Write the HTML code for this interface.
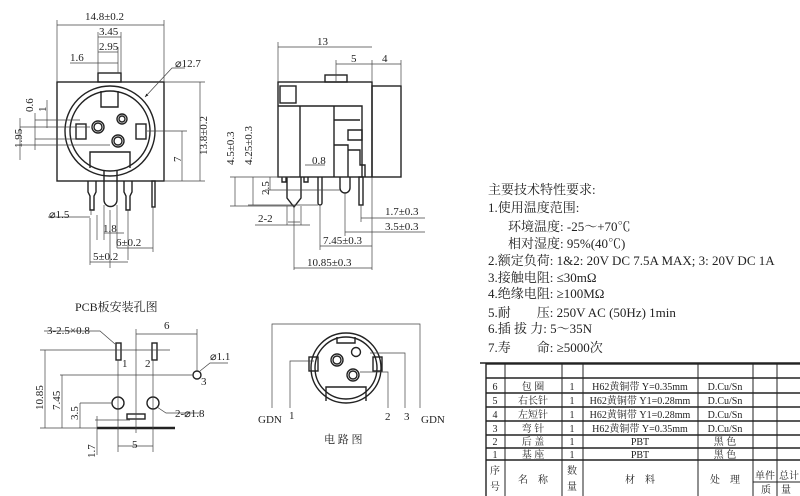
<!DOCTYPE html>
<html><head><meta charset="utf-8"><style>
html,body{margin:0;padding:0;background:#fff;width:800px;height:496px;overflow:hidden}
svg{display:block}
text{font-family:"Liberation Serif","Noto Serif CJK SC","Noto Sans CJK SC",serif;fill:#222}
.s{font-size:11px}
.t{font-size:13px}
</style></head><body>
<svg width="800" height="496" viewBox="0 0 800 496" xmlns="http://www.w3.org/2000/svg">
<defs><marker id="a" markerWidth="6" markerHeight="6" refX="5" refY="3" orient="auto"><path d="M0,1 L5,3 L0,5z" fill="#222"/></marker></defs>
<g stroke="#222" fill="none" stroke-width="1.4">
<rect x="57" y="82" width="107" height="99"/>
<rect x="98" y="73" width="23" height="9"/>
<circle cx="110" cy="131" r="45"/>
<circle cx="110" cy="131" r="40"/>
<path d="M101,91 V107 H118 V91"/>
<rect x="76" y="124" width="10" height="15"/>
<rect x="136" y="124" width="10" height="15"/>
<circle cx="98" cy="127" r="6"/><circle cx="98" cy="127" r="4"/>
<circle cx="122" cy="119" r="5"/><circle cx="122" cy="119" r="3"/>
<circle cx="118" cy="141" r="6"/><circle cx="118" cy="141" r="4"/>
<path d="M90,168 V152 H130 V168"/>
<path d="M104,170 V200 A6.5,6.5 0 0 0 117,200 V170"/>
<path d="M88,181 V192 L90,196 V210 H94 V196 L96,192 V181"/>
<path d="M124,181 V192 L126,196 V210 H130 V196 L132,192 V181"/>
<rect x="152" y="181" width="3" height="26"/>
<rect x="278" y="82" width="94" height="95"/>
<rect x="372" y="86" width="29" height="91"/>
<rect x="325" y="75" width="22" height="7"/>
<rect x="280" y="86" width="16" height="17"/>
<path d="M278,106 H362 V177 M300,106 V177 M334,106 V177"/>
<path d="M334,120 H360 M348,130 H362 V140 H348z M334,145 H348 V177 M348,150 H360 V165 H365 V177"/>
<path d="M282,177 V182 H286 V177 M304,177 V182 H308 V177"/>
<path d="M287,177 V198 L294,207 L301,198 V177"/>
<path d="M318,177 V203 A2,2 0 0 0 322,203 V177"/>
<path d="M340,177 V188 A5,5 0 0 0 350,188 V177"/>
<rect x="359" y="177" width="4" height="28"/>
<rect x="116" y="343" width="5" height="17"/>
<rect x="152" y="343" width="5" height="17"/>
<circle cx="197" cy="375" r="4"/>
<circle cx="118" cy="403" r="6"/><circle cx="153" cy="403" r="6"/>
<rect x="127" y="414" width="18" height="5"/>
<line x1="97" y1="428" x2="175" y2="428" stroke-width="2.5"/>
<circle cx="346" cy="368" r="35"/>
<circle cx="346" cy="368" r="31"/>
<path d="M337,337 V343 H355 V337"/>
<path d="M326,401 V387 H366 V401"/>
<rect x="309" y="357" width="9" height="14"/><rect x="373" y="357" width="9" height="14"/>
<circle cx="337" cy="360" r="6"/><circle cx="337" cy="360" r="4"/>
<circle cx="356" cy="352" r="4.5"/>
<circle cx="353" cy="375" r="6"/><circle cx="353" cy="375" r="4"/>
<rect x="486" y="364" width="320" height="140"/>
<path d="M486,378 H800 M486,393 H800 M486,407 H800 M486,421 H800 M486,435 H800 M486,448 H800 M486,460 H800"/>
<path d="M505,364 V496 M562,364 V496 M583,364 V496 M698,364 V496 M753,364 V496 M777,364 V496 M753,482 H800" stroke-width="1"/>
<line x1="480" y1="363" x2="800" y2="363" stroke-width="1.5"/>
</g>
<g stroke="#444" fill="none" stroke-width="0.7">
<path d="M57,82 V20 M164,82 V20 M98,73 V32 M121,73 V32 M118,73 V47 M57,25 H164" />
<line x1="98" y1="37" x2="121" y2="37"/><line x1="98" y1="52" x2="118" y2="52"/>
<line x1="70" y1="63" x2="118" y2="63"/>
<path d="M185,68 L172,68 L145,97" marker-end="url(#a)"/>
<path d="M164,82 H205 M164,181 H205 M200,82 V181 M147,131 H187 M182,131 V181"/>
<path d="M20,127 H90 M20,145 H110 M35,120 H80 M35,139 H76 M47,100 V128 M35,113 V150 M20,118 V160"/>
<path d="M97,215 V240 M91,210 V215 M48,217 H90 M110,210 V268 M104,205 V240 M117,205 V248 M128,210 V260 M153,207 V252 M104,233 H124 M117,248 H153 M90,218 V265 M90,262 H128"/>
<path d="M278,82 V42 M372,82 V60 M401,86 V60 M278,47 H372 M336,60 V82 M336,64 H401"/>
<path d="M230,177 H290 M230,206 H294 M248,205 H318 M265,190 H340 M235,177 V206 M253,177 V205 M270,177 V190"/>
<path d="M294,206 V270 M320,206 V250 M345,193 V236 M361,205 V222 M372,177 V270 M345,232 H425 M361,218 H425 M320,246 H372 M294,268 H372 M305,165 H325 M300,222 H288 M287,206 V225 M301,206 V225 M255,225 H310"/>
<path d="M136,329 V433 M136,334 H197 M197,329 V371 M40,350 H170 M60,375 H193 M80,403 H112 M95,420 H130 M45,350 V428 M62,375 V428 M80,403 V428 M97,416 V455 M118,360 V452 M153,360 V452 M118,446 H153 M40,428 H97"/>
<path d="M44,331 H100 L115,344"/>
<path d="M200,371 L210,363 H228"/>
<path d="M157,407 L166,413 H200"/>
<path d="M272,408 V324 H345 M420,408 V324 H345 M290,408 V361 H314 M388,408 V372 H360 M405,408 V353 H370"/>
</g>
<g class="s">
<text x="85" y="20">14.8±0.2</text>
<text x="99" y="35">3.45</text>
<text x="99" y="50">2.95</text>
<text x="70" y="61">1.6</text>
<text x="175" y="67">⌀12.7</text>
<text x="49" y="218">⌀1.5</text>
<text x="103" y="232">1.8</text>
<text x="116" y="246">6±0.2</text>
<text x="93" y="260">5±0.2</text>
<text transform="translate(207,155) rotate(-90)">13.8±0.2</text>
<text transform="translate(181,162) rotate(-90)">7</text>
<text transform="translate(33,112) rotate(-90)">0.6</text>
<text transform="translate(46,112) rotate(-90)">1</text>
<text transform="translate(22,148) rotate(-90)">1.95</text>
<text x="317" y="45">13</text>
<text x="351" y="62">5</text>
<text x="382" y="62">4</text>
<text x="312" y="164">0.8</text>
<text x="258" y="222">2-2</text>
<text x="385" y="215">1.7±0.3</text>
<text x="385" y="230">3.5±0.3</text>
<text x="323" y="244">7.45±0.3</text>
<text x="307" y="266">10.85±0.3</text>
<text transform="translate(234,165) rotate(-90)">4.5±0.3</text>
<text transform="translate(252,165) rotate(-90)">4.25±0.3</text>
<text transform="translate(269,195) rotate(-90)">2.5</text>
<text x="75" y="311" style="font-size:12px">PCB板安装孔图</text>
<text x="47" y="334">3-2.5×0.8</text>
<text x="164" y="329">6</text>
<text x="210" y="360">⌀1.1</text>
<text x="201" y="385">3</text>
<text x="122" y="367">1</text>
<text x="145" y="367">2</text>
<text x="175" y="417">2-⌀1.8</text>
<text x="132" y="448">5</text>
<text transform="translate(43,410) rotate(-90)">10.85</text>
<text transform="translate(60,410) rotate(-90)">7.45</text>
<text transform="translate(78,420) rotate(-90)">3.5</text>
<text transform="translate(95,458) rotate(-90)">1.7</text>
<text x="258" y="423">GDN</text>
<text x="289" y="419">1</text>
<text x="385" y="420">2</text>
<text x="404" y="420">3</text>
<text x="421" y="423">GDN</text>
<text x="324" y="443">电 路 图</text>
</g>
<g class="t">
<text x="488" y="194">主要技术特性要求:</text>
<text x="488" y="212">1.使用温度范围:</text>
<text x="508" y="231">环境温度: -25～+70℃</text>
<text x="508" y="248">相对湿度: 95%(40℃)</text>
<text x="488" y="265">2.额定负荷: 1&amp;2: 20V DC 7.5A MAX; 3: 20V DC 1A</text>
<text x="488" y="282">3.接触电阻: ≤30mΩ</text>
<text x="488" y="298">4.绝缘电阻: ≥100MΩ</text>
<text x="488" y="317">5.耐　　压: 250V AC (50Hz) 1min</text>
<text x="488" y="333">6.插 拔 力: 5～35N</text>
<text x="488" y="352">7.寿　　命: ≥5000次</text>
</g>
<g style="font-size:10px" text-anchor="middle">
<text x="495" y="390">6</text><text x="533" y="390">包 圈</text><text x="572" y="390">1</text><text x="640" y="390">H62黄铜带 Y=0.35mm</text><text x="725" y="390">D.Cu/Sn</text>
<text x="495" y="404">5</text><text x="533" y="404">右长针</text><text x="572" y="404">1</text><text x="640" y="404">H62黄铜带 Y1=0.28mm</text><text x="725" y="404">D.Cu/Sn</text>
<text x="495" y="418">4</text><text x="533" y="418">左短针</text><text x="572" y="418">1</text><text x="640" y="418">H62黄铜带 Y1=0.28mm</text><text x="725" y="418">D.Cu/Sn</text>
<text x="495" y="432">3</text><text x="533" y="432">弯 针</text><text x="572" y="432">1</text><text x="640" y="432">H62黄铜带 Y=0.35mm</text><text x="725" y="432">D.Cu/Sn</text>
<text x="495" y="445">2</text><text x="533" y="445">后 盖</text><text x="572" y="445">1</text><text x="640" y="445">PBT</text><text x="725" y="445">黑 色</text>
<text x="495" y="458">1</text><text x="533" y="458">基 座</text><text x="572" y="458">1</text><text x="640" y="458">PBT</text><text x="725" y="458">黑 色</text>
<text x="495" y="474">序</text><text x="495" y="490">号</text><text x="533" y="483">名　称</text>
<text x="572" y="474">数</text><text x="572" y="490">量</text><text x="640" y="483">材　料</text><text x="725" y="483">处　理</text>
<text x="765" y="479">单件</text><text x="789" y="479">总计</text><text x="776" y="493">质　量</text>
</g>
</svg>
</body></html>
